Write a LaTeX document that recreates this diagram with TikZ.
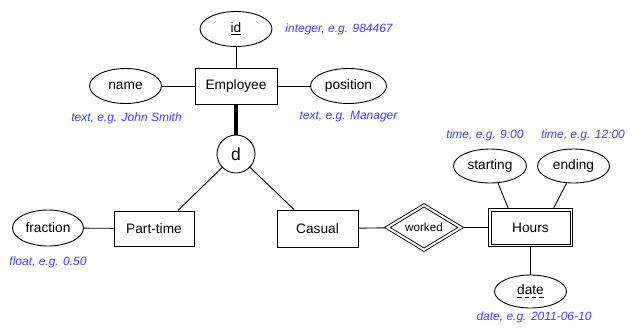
\documentclass[tikz,border=0pt]{standalone}
\usepackage{fontspec}
\setmainfont{Liberation Sans}
\usetikzlibrary{shapes.geometric}

\definecolor{noteblue}{RGB}{64,64,255}

% partial key: text with four dashes under it
\newcommand{\dashunder}[1]{%
  \setbox0\hbox{#1}%
  \rlap{\raisebox{-3pt}{\hbox to \wd0{%
    \vrule width 4.5pt height 0.9pt\hfil\vrule width 4.5pt height 0.9pt\hfil
    \vrule width 4.5pt height 0.9pt\hfil\vrule width 4.5pt height 0.9pt}}}%
  \box0}

\tikzset{
  entity/.style={draw, rectangle, minimum width=80pt, minimum height=35pt, inner sep=2pt},
  attribute/.style={draw, ellipse, minimum width=72pt, minimum height=35pt, inner sep=1pt},
  relation/.style={draw, diamond, double, double distance=2pt, outer sep=1.9pt,
    aspect=1.6, inner sep=0pt, minimum width=75pt, minimum height=46pt,
    font=\fontsize{11.7}{14}\selectfont},
  disjoint/.style={draw, circle, minimum size=38pt, inner sep=0pt,
    font=\fontsize{17.5}{20}\selectfont},
  note/.style={text=noteblue, inner sep=0pt, font=\fontsize{12}{14}\selectfont\itshape},
}

\begin{document}
\begin{tikzpicture}[x=1pt, y=-1pt, line width=0.9pt, font=\fontsize{13.7}{16}\selectfont]
    \useasboundingbox (0,0) rectangle (636,333);

    % entities
    \node[entity, minimum width=82pt, minimum height=36pt] (employee) at (236,86) {Employee};
    \node[entity] (parttime) at (154,228.5) {Part-time};
    \node[entity, minimum width=81pt, minimum height=37pt] (casual) at (317.5,228.5) {Casual};
    \node[entity, minimum width=84pt, minimum height=38pt] (hours) at (530.5,227.5) {Hours};
    \draw ([shift={(3,3)}]hours.north west) rectangle ([shift={(-3,-3)}]hours.south east);
    \node[relation] (worked) at (424,227.5) {worked};
    \node[disjoint] (d) at (236,154) {d};

    % attributes
    \node[attribute] (id) at (236,29) {\underline{id}};
    \node[attribute] (name) at (125.5,86) {name};
    \node[attribute, minimum width=76pt] (position) at (348.5,86) {position};
    \node[attribute, minimum width=71pt, minimum height=36pt] (fraction) at (48,228) {fraction};
    \node[attribute, minimum width=73pt, minimum height=34pt] (starting) at (490,166) {starting};
    \node[attribute, minimum height=34pt] (ending) at (573.5,166) {ending};
    \node[attribute, minimum height=33pt] (date) at (530.5,291.5) {\dashunder{date}};

    % domains
    \node[note, anchor=west] (idnote) at (285,29) {integer, e.g. 984467};
    \node[note] (namenote) at (126.5,118) {text, e.g. John Smith};
    \node[note] (positionnote) at (348.5,117) {text, e.g. Manager};
    \node[note] (fractionnote) at (48,262) {float, e.g. 0.50};
    \node[note] (startingnote) at (485,135) {time, e.g. 9:00};
    \node[note] (endingnote) at (583,135) {time, e.g. 12:00};
    \node[note] (datenote) at (534,317) {date, e.g. 2011-06-10};

    \draw (id) -- (employee);
    \draw (name) -- (employee);
    \draw (employee) -- (position);
    \draw[line width=3.3pt] (employee) -- (d);
    \draw (d) -- (parttime.37);
    \draw (d) -- (casual.141);
    \draw (fraction) -- (parttime);
    \draw (casual) -- (worked);
    \draw (worked) -- (hours);
    \draw (starting.-65) -- (hours.139);
    \draw (ending.-112) -- (hours.40);
    \draw (hours) -- (date);
\end{tikzpicture}
\end{document}
